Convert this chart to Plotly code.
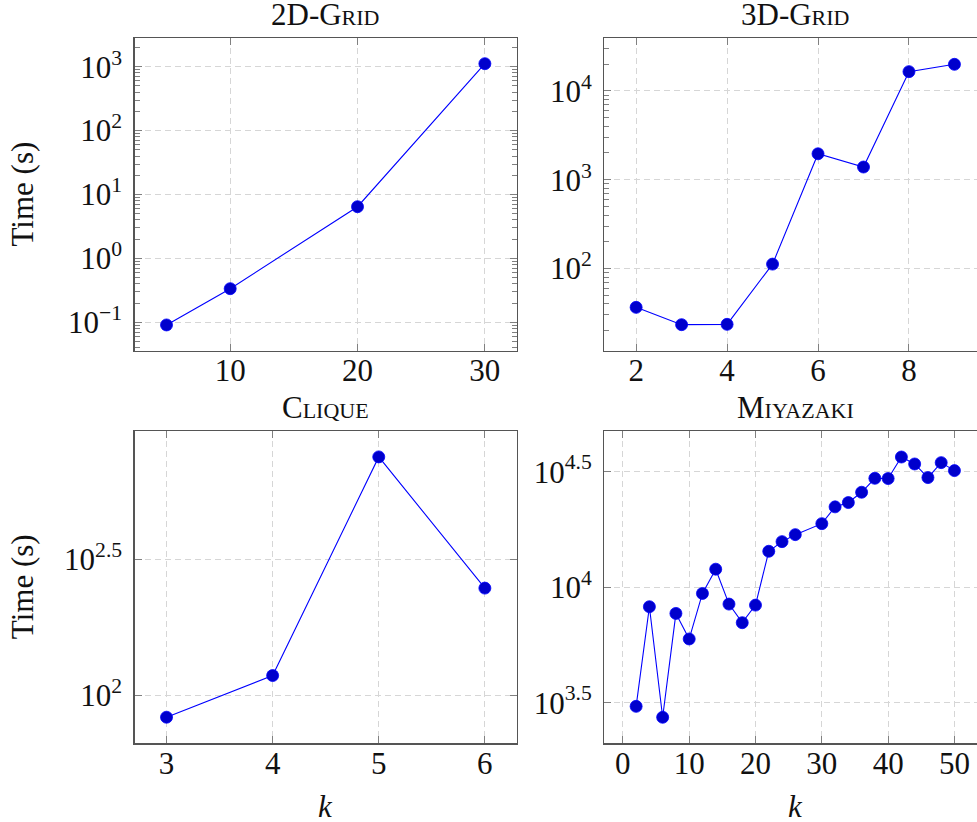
import plotly.graph_objects as go

# ---------------- data ----------------
grid2d_k = [5, 10, 20, 30]
grid2d_t = [0.091, 0.336, 6.44, 1114]

grid3d_k = [2, 3, 4, 5, 6, 7, 8, 9]
grid3d_t = [36.5, 23.3, 23.5, 112, 1959, 1390, 16500, 19950]

clique_k = [3, 4, 5, 6]
clique_t = [83.3, 118.4, 750, 247.7]

miyazaki_k = [2, 4, 6, 8, 10, 12, 14, 16, 18, 20, 22, 24, 26, 30, 32, 34, 36, 38, 40, 42, 44, 46, 48, 50]
miyazaki_t = [3048, 8227, 2733, 7696, 5966, 9390, 11960, 8446, 7017, 8360, 14300, 15740, 16880,
              18830, 22260, 23240, 25750, 29600, 29520, 36590, 34140, 29800, 34600, 31950]

titles = ["2D-Grid", "3D-Grid", "Clique", "Miyazaki"]
y_label = "Time (s)"
x_label = "<i>k</i>"

x_ticks = [[10, 20, 30], [2, 4, 6, 8], [3, 4, 5, 6], [0, 10, 20, 30, 40, 50]]
y_tick_vals = [[0.1, 1, 10, 100, 1000], [100, 1000, 10000], [100, 10 ** 2.5],
               [10 ** 3.5, 10 ** 4, 10 ** 4.5]]
y_tick_text = [["10<sup>\u22121</sup>", "10<sup>0</sup>", "10<sup>1</sup>", "10<sup>2</sup>", "10<sup>3</sup>"],
               ["10<sup>2</sup>", "10<sup>3</sup>", "10<sup>4</sup>"],
               ["10<sup>2</sup>", "10<sup>2.5</sup>"],
               ["10<sup>3.5</sup>", "10<sup>4</sup>", "10<sup>4.5</sup>"]]

# ---------------- layout geometry ----------------
W, H = 977, 822
FONT = "Liberation Serif"
FS = 31
col_px = [(134.7, 516.7), (604.3, 977.0)]
row_px = [(38.3, 350.7), (431.0, 743.3)]
x_ranges = [[2.5, 32.5], [1.3, 9.496], [2.7, 6.3], [-2.8, 53.4]]
y_ranges = [[-1.444, 3.444], [1.074, 4.593], [1.825, 2.970], [3.324, 4.676]]
minor_on = [True, True, False, False]

series = [(grid2d_k, grid2d_t), (grid3d_k, grid3d_t), (clique_k, clique_t), (miyazaki_k, miyazaki_t)]

fig = go.Figure()
annotations = []
for i, (xs, ys) in enumerate(series):
    r, c = divmod(i, 2)
    n = i + 1
    xa = "x" if n == 1 else f"x{n}"
    ya = "y" if n == 1 else f"y{n}"
    fig.add_trace(go.Scatter(
        x=xs, y=ys, mode="lines+markers", xaxis=xa, yaxis=ya,
        line=dict(color="#0000ff", width=1.1),
        marker=dict(size=12, color="#0000cc", line=dict(color="#0000ff", width=0.8)),
        showlegend=False, hoverinfo="skip"))
    x0, x1 = col_px[c]
    y0, y1 = row_px[r]
    xdom = [x0 / W, x1 / W]
    ydom = [(H - y1) / H, (H - y0) / H]
    mirror_y = "ticks" if c == 0 else False
    xkey = "xaxis" if n == 1 else f"xaxis{n}"
    ykey = "yaxis" if n == 1 else f"yaxis{n}"
    xaxis = dict(
        domain=xdom, anchor=ya, range=x_ranges[i], tickmode="array", tickvals=x_ticks[i],
        ticks="inside", ticklen=7, tickwidth=1, tickcolor="#808080",
        showline=True, linecolor="#555555", linewidth=1.3, mirror="ticks",
        showgrid=True, gridcolor="#d6d6d6", griddash="6px,4px", gridwidth=1,
        zeroline=False, tickfont=dict(family=FONT, size=FS, color="#111111"),
        ticklabelstandoff=-8)
    yaxis = dict(
        domain=ydom, anchor=xa, type="log", range=y_ranges[i], tickmode="array",
        tickvals=y_tick_vals[i], ticktext=y_tick_text[i],
        ticks="inside", ticklen=7, tickwidth=1, tickcolor="#808080",
        showline=True, linecolor="#555555", linewidth=1.3, mirror=mirror_y,
        showgrid=True, gridcolor="#d6d6d6", griddash="6px,4px", gridwidth=1,
        zeroline=False, tickfont=dict(family=FONT, size=FS, color="#111111"),
        ticklabelstandoff=5)
    if minor_on[i]:
        yaxis["minor"] = dict(ticks="inside", ticklen=5, tickwidth=1, tickcolor="#808080",
                              dtick="D1", showgrid=False)
    fig.update_layout({xkey: xaxis, ykey: yaxis})

    # subplot title (centered over full axis width, incl. cropped part)
    full_x1 = x0 + (col_px[0][1] - col_px[0][0])
    cx = (x0 + full_x1) / 2
    annotations.append(dict(
        text=titles[i], x=cx / W, y=(H - (y0 - 4)) / H, xref="paper", yref="paper",
        xanchor="center", yanchor="bottom", showarrow=False,
        font=dict(family=FONT, size=FS, color="#111111", variant="small-caps")))
    if c == 0:
        annotations.append(dict(
            text=y_label, x=22 / W, y=(H - (y0 + y1) / 2) / H, xref="paper", yref="paper",
            xanchor="center", yanchor="middle", textangle=-90, showarrow=False,
            font=dict(family=FONT, size=FS, color="#111111")))
    if r == 1:
        annotations.append(dict(
            text=x_label, x=cx / W, y=(H - 806) / H, xref="paper", yref="paper",
            xanchor="center", yanchor="middle", showarrow=False,
            font=dict(family=FONT, size=FS, color="#111111")))

fig.update_layout(
    width=W, height=H, autosize=False,
    margin=dict(l=0, r=0, t=0, b=0),
    paper_bgcolor="white", plot_bgcolor="white",
    annotations=annotations, hovermode=False,
    font=dict(family=FONT, size=FS, color="#111111"))

fig.write_html("out.html", config={"displayModeBar": False, "staticPlot": True},
               post_script="document.body.style.margin='0';document.body.style.overflow='hidden';")
